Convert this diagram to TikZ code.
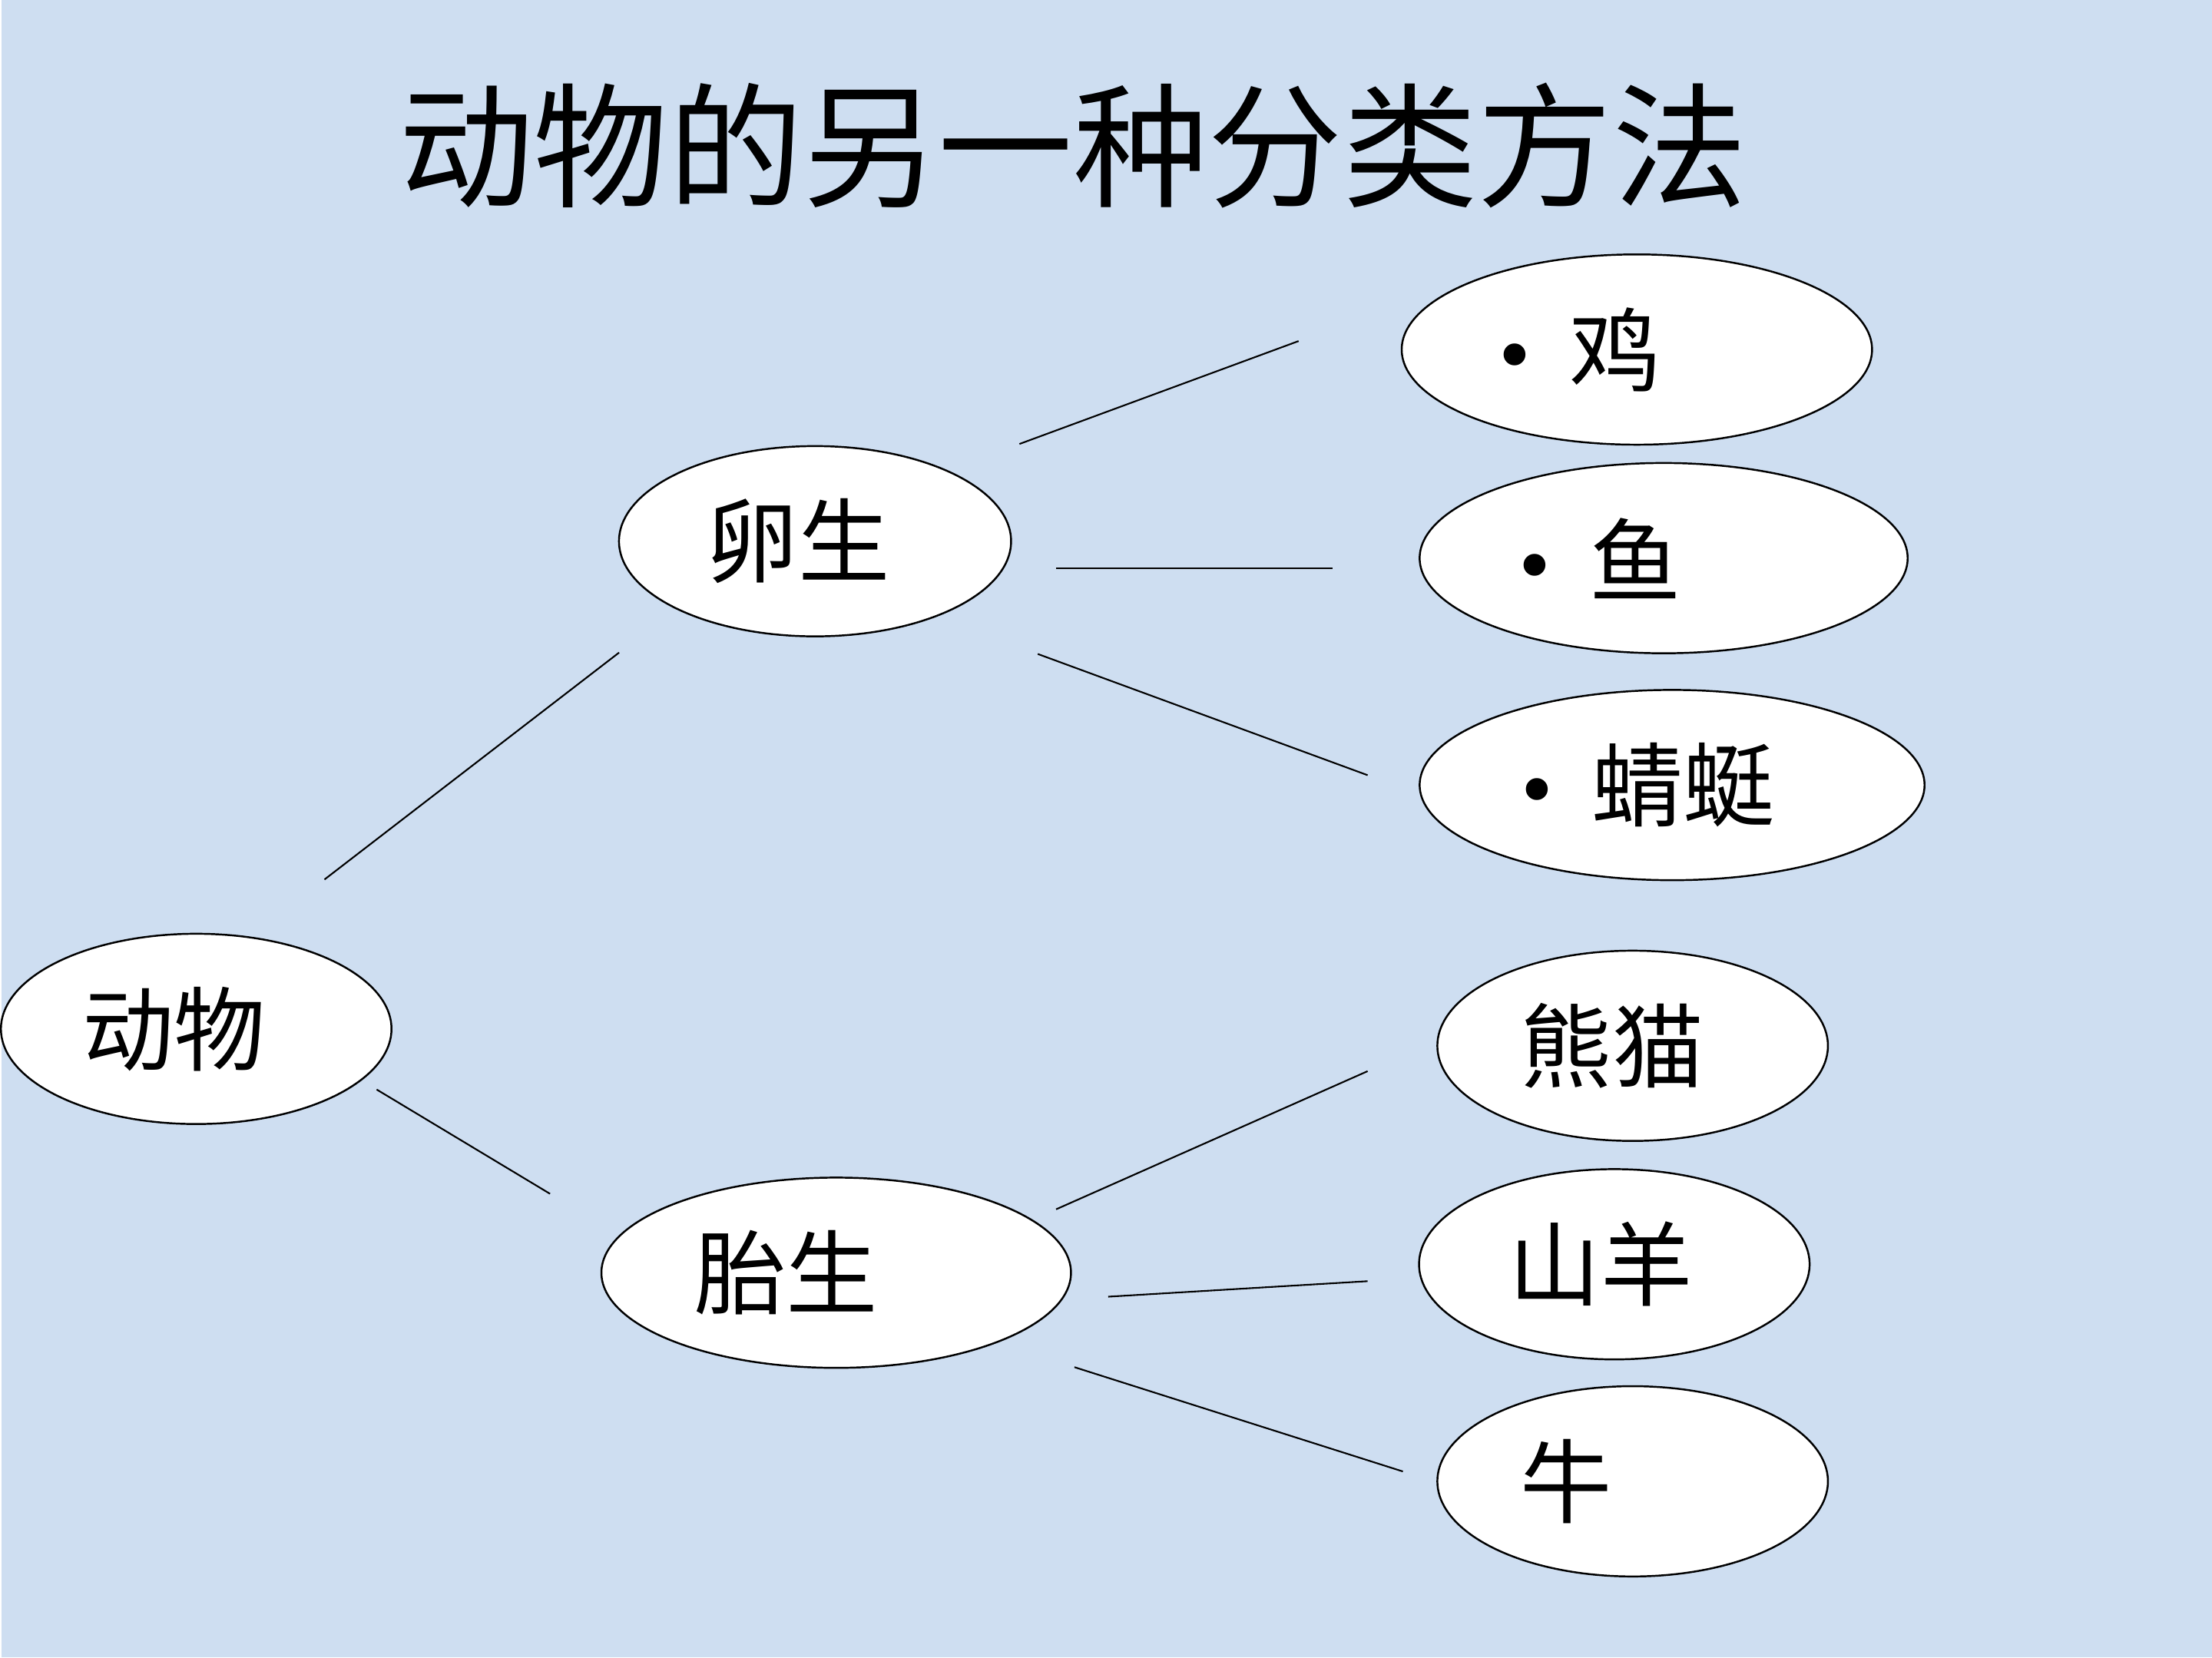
\documentclass[tikz,border=0pt]{standalone}
\usepackage{fontspec}
\setmainfont{Liberation Serif}
\newfontfamily\cjk{Noto Sans CJK SC}
\usetikzlibrary{shapes.geometric}
\definecolor{slidebg}{RGB}{206,222,241}

\begin{document}
\begin{tikzpicture}[
  x=0.018367cm, y=-0.018367cm,
  oval/.style={draw, ellipse, fill=white, line width=0.7pt,
               minimum height=2.48cm, inner sep=0pt,
               align=left, font=\fontsize{34}{40}\selectfont\cjk},
  link/.style={line width=0.6pt}
]
%% slide background
\fill[slidebg] (0,0) rectangle (1568,1176);

%% title
\node[font=\fontsize{50}{56}\selectfont\cjk] (title) at (760,103) {动物的另一种分类方法};

%% root and the two groups
\node[oval, minimum width=5.09cm, text width=2.96cm] (dongwu) at (138,730) {动物};
\node[oval, minimum width=5.11cm, text width=2.83cm] (luan)   at (577,384) {卵生};
\node[oval, minimum width=6.12cm, text width=3.69cm] (tai)    at (592,903) {胎生};

%% oviparous animals
\node[oval, minimum width=6.13cm, text width=3.60cm] (ji)      at (1160,248) {{\rmfamily •}\hspace{0.5cm}鸡};
\node[oval, minimum width=6.36cm, text width=3.78cm] (yu)      at (1179,396) {{\rmfamily •}\hspace{0.5cm}鱼};
\node[oval, minimum width=6.58cm, text width=3.93cm] (qingting) at (1185,557) {{\rmfamily •}\hspace{0.5cm}蜻蜓};

%% viviparous animals
\node[oval, minimum width=5.09cm, text width=2.92cm] (xiongmao) at (1157,742) {熊猫};
\node[oval, minimum width=5.09cm, text width=2.74cm] (shanyang) at (1144,897) {山羊};
\node[oval, minimum width=5.09cm, text width=2.92cm] (niu)      at (1157,1051) {牛};

%% free line ends
\coordinate (a1) at (229,624);  \coordinate (a2) at (438,463);
\coordinate (b1) at (266,773);  \coordinate (b2) at (389,847);
\coordinate (c1) at (722,315);  \coordinate (c2) at (920,242);
\coordinate (d1) at (748,403);  \coordinate (d2) at (944,403);
\coordinate (e1) at (735,464);  \coordinate (e2) at (969,550);
\coordinate (f1) at (748,858);  \coordinate (f2) at (969,760);
\coordinate (g1) at (785,920);  \coordinate (g2) at (969,909);
\coordinate (h1) at (761,970);  \coordinate (h2) at (994,1044);

%% connecting lines
\draw[link] (a1) -- (a2);
\draw[link] (b1) -- (b2);
\draw[link] (c1) -- (c2);
\draw[link] (d1) -- (d2);
\draw[link] (e1) -- (e2);
\draw[link] (f1) -- (f2);
\draw[link] (g1) -- (g2);
\draw[link] (h1) -- (h2);
\end{tikzpicture}
\end{document}
